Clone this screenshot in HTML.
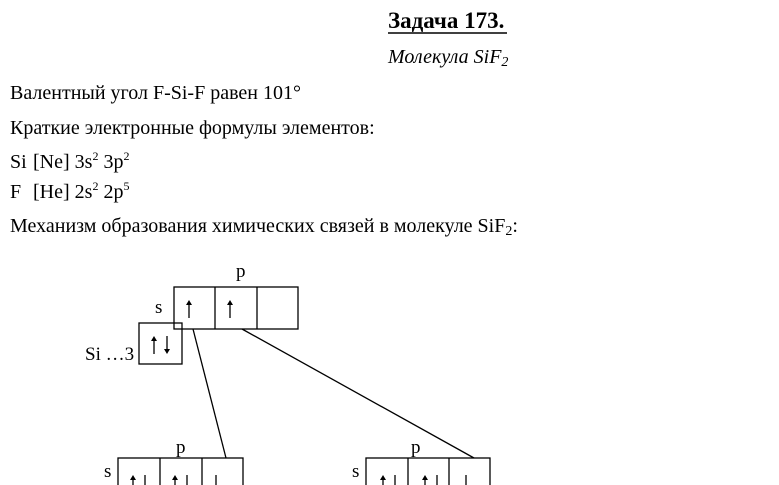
<!DOCTYPE html>
<html><head><meta charset="utf-8"><style>
html,body{margin:0;padding:0;background:#fff;}
svg{display:block;}
text{font-family:"Liberation Serif",serif;fill:#000;}
</style></head><body>
<svg width="779" height="485" viewBox="0 0 779 485" xmlns="http://www.w3.org/2000/svg">
<defs>
<g id="up"><line x1="0" y1="3" x2="0" y2="18" stroke="#000" stroke-width="1.3"/><path d="M-3,5 L0,0 L3,5 Z" fill="#000"/></g>
<g id="dn"><line x1="0" y1="0" x2="0" y2="15" stroke="#000" stroke-width="1.3"/><path d="M-3,13 L0,18 L3,13 Z" fill="#000"/></g>
</defs>
<text x="388" y="28" font-size="23" font-weight="bold">Задача 173.</text>
<line x1="388" y1="33" x2="507" y2="33" stroke="#000" stroke-width="1.5"/>
<text x="388" y="63" font-size="20" font-style="italic">Молекула SiF<tspan font-size="14" dy="3">2</tspan></text>
<text x="10" y="99" font-size="20">Валентный угол F-Si-F равен 101°</text>
<text x="10" y="134" font-size="20">Краткие электронные формулы элементов:</text>
<text y="168" font-size="20"><tspan x="10">Si</tspan><tspan x="33">[Ne] 3s</tspan><tspan font-size="12" dy="-8">2</tspan><tspan dy="8"> 3p</tspan><tspan font-size="12" dy="-8">2</tspan></text>
<text y="198" font-size="20"><tspan x="10">F</tspan><tspan x="33">[He] 2s</tspan><tspan font-size="12" dy="-8">2</tspan><tspan dy="8"> 2p</tspan><tspan font-size="12" dy="-8">5</tspan></text>
<text x="10" y="232" font-size="20">Механизм образования химических связей в молекуле SiF<tspan font-size="14" dy="3">2</tspan><tspan dy="-3">:</tspan></text>

<g stroke="#000" stroke-width="1.3" fill="none">
<rect x="174" y="287" width="124" height="42"/>
<line x1="215" y1="287" x2="215" y2="329"/>
<line x1="257" y1="287" x2="257" y2="329"/>
<rect x="139" y="323" width="43" height="41"/>
<line x1="193" y1="329" x2="226" y2="458"/>
<line x1="242" y1="329" x2="474" y2="458"/>
<rect x="118" y="458" width="125" height="40"/>
<line x1="160" y1="458" x2="160" y2="498"/>
<line x1="202" y1="458" x2="202" y2="498"/>
<rect x="366" y="458" width="124" height="40"/>
<line x1="408" y1="458" x2="408" y2="498"/>
<line x1="449" y1="458" x2="449" y2="498"/>
</g>
<g font-size="19">
<text x="236" y="277">p</text>
<text x="155" y="313">s</text>
<text x="85" y="360">Si …3</text>
<text x="176" y="453">p</text>
<text x="104" y="477">s</text>
<text x="411" y="453">p</text>
<text x="352" y="477">s</text>
</g>
<use href="#up" x="189" y="300"/>
<use href="#up" x="230" y="300"/>
<use href="#up" x="154" y="336"/>
<use href="#dn" x="167" y="336"/>
<use href="#up" x="133" y="475"/>
<use href="#dn" x="145" y="475"/>
<use href="#up" x="175" y="475"/>
<use href="#dn" x="187" y="475"/>
<use href="#dn" x="216" y="475"/>
<use href="#up" x="383" y="475"/>
<use href="#dn" x="395" y="475"/>
<use href="#up" x="425" y="475"/>
<use href="#dn" x="437" y="475"/>
<use href="#dn" x="466" y="475"/>
</svg>
</body></html>
